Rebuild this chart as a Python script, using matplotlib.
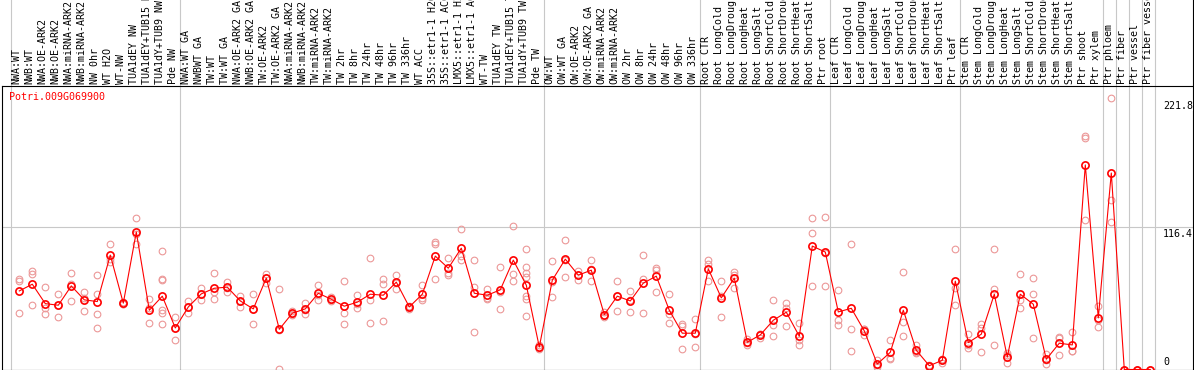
import matplotlib.pyplot as plt
import matplotlib.transforms as mtransforms
import numpy as np

gene_id = "Potri.009G069900"

samples = [
    "NWA:WT", "NWB:WT", "NWA:OE-ARK2", "NWB:OE-ARK2", "NWA:miRNA-ARK2",
    "NWB:miRNA-ARK2", "NW 0hr", "WT H2O", "WT-NW", "TUA1dEY NW",
    "TUA1dEY+TUB15 NW", "TUA1dY+TUB9 NW", "Pde NW",
    "NWA:WT GA", "NWBWT GA", "TW:WT", "TW:WT GA", "NWA:OE-ARK2 GA",
    "NWB:OE-ARK2 GA", "TW:OE-ARK2", "TW:OE-ARK2 GA", "NWA:miRNA-ARK2",
    "NWB:miRNA-ARK2", "TW:miRNA-ARK2", "TW:miRNA-ARK2", "TW 2hr", "TW 8hr",
    "TW 24hr", "TW 48hr", "TW 96hr", "TW 336hr", "WT ACC", "35S::etr1-1 H2O",
    "35S::etr1-1 ACC", "LMX5::etr1-1 H2O", "LMX5::etr1-1 ACC", "WT-TW",
    "TUA1dEY TW", "TUA1dEY+TUB15 TW", "TUA1dY+TUB9 TW", "Pde TW",
    "OW:WT", "OW:WT GA", "OW:OE-ARK2", "OW:OE-ARK2 GA", "OW:miRNA-ARK2",
    "OW:miRNA-ARK2", "OW 2hr", "OW 8hr", "OW 24hr", "OW 48hr", "OW 96hr",
    "OW 336hr",
    "Root CTR", "Root LongCold", "Root LongDrought", "Root LongHeat",
    "Root LongSalt", "Root ShortCold", "Root ShortDrought", "Root ShortHeat",
    "Root ShortSalt", "Ptr root",
    "Leaf CTR", "Leaf LongCold", "Leaf LongDrought", "Leaf LongHeat",
    "Leaf LongSalt", "Leaf ShortCold", "Leaf ShortDrought", "Leaf ShortHeat",
    "Leaf ShortSalt", "Ptr leaf",
    "Stem CTR", "Stem LongCold", "Stem LongDrought", "Stem LongHeat",
    "Stem LongSalt", "Stem ShortCold", "Stem ShortDrought", "Stem ShortHeat",
    "Stem ShortSalt", "Ptr shoot", "Ptr xylem",
    "Ptr phloem", "Ptr fiber", "Ptr vessel", "Ptr fiber vessel",
]

group_sizes = [13, 28, 12, 10, 10, 11, 1, 1, 1, 1]

means = [
    64.3, 69.8, 53.9, 52.6, 68.4, 57.0, 55.6, 93.6, 54.3, 112.5, 48.5, 60.0, 34.0,
    51.2, 61.9, 66.5, 67.4, 56.1, 49.6, 74.8, 32.9, 46.1, 49.6, 62.4, 57.5, 51.8,
    55.1, 61.6, 60.8, 71.5, 51.2, 61.6, 92.8, 82.9, 99.3, 62.4, 60.8, 65.2, 89.5,
    69.0, 18.4,
    73.1, 90.3, 77.2, 81.3, 44.9, 60.0, 56.1, 70.7, 76.4, 48.5, 29.7, 29.7,
    82.4, 58.6, 74.8, 22.3, 28.3, 40.3, 46.9, 27.2, 101.0, 96.1,
    47.1, 50.1, 31.6, 4.5, 14.1, 48.5, 15.7, 3.1, 7.5, 72.3,
    22.0, 28.9, 61.6, 10.2, 61.6, 53.4, 8.4, 21.5, 20.1, 167.4, 42.2,
    160.8, 0, 0, 0,
]

replicates = [
    [74.2, 72.8, 46.1], [80.2, 78.5, 52.6], [67.4, 50.4, 45.2], [61.9, 52.6, 42.8],
    [78.9, 70.1, 55.9], [63.5, 58.6, 47.7], [77.2, 61.9, 45.2, 34.0],
    [102.6, 90.3, 87.9], [55.0, 54.0, 54.0], [123.9, 111.0, 102.3],
    [58.0, 50.4, 37.9], [97.1, 74.2, 73.1, 48.5, 46.3, 37.0], [42.8, 34.0, 23.9],
    [55.9, 51.5, 46.1], [66.8, 61.9, 57.2], [78.9, 63.5, 57.5], [72.0, 67.0, 63.3],
    [60.5, 56.3, 51.5], [61.9, 49.6, 37.0], [78.5, 75.0, 70.9], [66.0, 32.5, 0.4],
    [48.0, 45.5, 45.0], [54.3, 49.0, 45.5], [69.3, 61.3, 56.7], [59.7, 57.0, 56.0],
    [72.3, 46.6, 37.0], [60.8, 54.0, 50.4], [91.1, 57.0, 37.9], [74.4, 70.1, 39.8],
    [77.5, 71.0, 65.7], [52.0, 51.5, 49.5], [69.3, 58.2, 57.2], [104.3, 102.3, 73.9],
    [91.1, 78.9, 77.5], [114.9, 92.8, 89.8], [89.5, 67.4, 30.5], [66.0, 58.6, 58.0],
    [83.8, 63.5, 49.3], [117.6, 78.3, 72.3],
    [98.5, 84.0, 78.9, 75.8, 60.0, 57.5, 43.6], [20.0, 18.0, 17.0],
    [88.9, 72.0, 59.2], [105.9, 90.0, 75.6], [81.0, 77.0, 73.6], [89.5, 82.0, 72.3],
    [47.0, 45.0, 43.0], [72.3, 60.0, 47.7], [64.1, 57.0, 46.9], [93.6, 74.2, 46.1],
    [83.2, 81.8, 63.5], [61.9, 45.5, 37.9], [37.5, 35.4, 16.6], [41.4, 29.0, 18.4],
    [89.2, 86.5, 72.3], [72.3, 60.0, 42.8], [79.7, 77.7, 66.6], [25.3, 22.0, 20.0],
    [29.0, 29.0, 26.0], [56.7, 36.5, 27.2], [54.5, 50.4, 35.7], [37.9, 24.0, 20.3],
    [123.9, 111.6, 68.2], [124.8, 95.0, 68.2],
    [64.9, 40.3, 36.7], [102.6, 33.2, 14.9], [33.0, 33.0, 28.0], [7.8, 3.5, 2.0],
    [23.9, 9.2, 9.0], [79.7, 38.7, 27.2], [19.9, 14.0, 13.3], [4.0, 3.0, 2.5],
    [9.0, 8.0, 5.0], [98.5, 66.8, 52.6],
    [28.7, 19.7, 18.0], [37.5, 34.0, 14.1], [98.5, 65.7, 20.1], [13.5, 12.0, 5.3],
    [78.0, 57.2, 50.1], [74.8, 61.6, 25.6], [13.0, 8.0, 4.5], [26.6, 26.0, 11.9],
    [30.5, 15.0, 14.9], [190.8, 189.8, 122.3], [51.8, 40.4, 34.6],
    [221.8, 138.9, 120.7], [0, 0, 0], [0, 0, 0], [0, 0, 0],
]

y_marks = [221.8, 116.4, 0]
y_mark_labels = ["221.8", "116.4", "0"]

W, H = 1194, 370
fig = plt.figure(figsize=(W / 100, H / 100), dpi=100)
ax = fig.add_axes([2 / W, 0.5 / H, 1191 / W, 283.5 / H])
ax.set_xlim(-1.331, 90.285)
ax.set_ylim(0, 232.0)
ax.set_xticks([])
ax.set_yticks([])
for sp in ax.spines.values():
    sp.set_color("black")
    sp.set_linewidth(0.8)

mono = "DejaVu Sans Mono"
grid_col = "#c8c8c8"
label_top = 370 / 283.5  # axes fraction reaching the top of the figure

# group separators, running through the label strip too
ends = np.concatenate([[-1], np.cumsum(group_sizes) - 1])
for e in ends:
    ax.axvline(e + 0.38, ymin=0, ymax=label_top, color=grid_col, lw=0.8,
               clip_on=False, zorder=0)
ax.axvline(ax.get_xlim()[1], ymin=1, ymax=label_top, color="black", lw=0.8,
           clip_on=False)
ax.axhline(y_marks[1], color=grid_col, lw=0.8, zorder=0)

# replicates
rx, ry = [], []
for i, reps in enumerate(replicates):
    rx += [i] * len(reps)
    ry += reps
ax.plot(rx, ry, "o", mfc="none", mec="#ec9898", ms=4.8, mew=0.8,
        clip_on=False, zorder=2)

# means
x = np.arange(len(samples))
ax.plot(x, means, color="red", lw=0.8, marker="o", ms=5.2, mfc="none",
        mec="red", mew=1.2, clip_on=False, zorder=3)

# sample labels
trans = mtransforms.blended_transform_factory(ax.transData, ax.transAxes)
for i, s in enumerate(samples):
    ax.text(i - 0.2, 1.006, s, transform=trans, rotation=90, ha="center",
            va="bottom", fontsize=7.2, family=mono, clip_on=False)

ax.text(0.0061, 0.961, gene_id, transform=ax.transAxes, color="red",
        fontsize=7.2, family=mono, va="center", ha="left")

ytrans = mtransforms.blended_transform_factory(ax.transAxes, ax.transData)
for v, lab in zip(y_marks, y_mark_labels):
    if v > 0:
        ax.annotate(lab, (0.9748, v), xycoords=ytrans, xytext=(0, -1.5),
                    textcoords="offset points", va="top", ha="left",
                    fontsize=7.2, family=mono,
                    bbox=dict(facecolor="white", edgecolor="none", pad=0.3))
    else:
        ax.annotate(lab, (0.9748, v), xycoords=ytrans, xytext=(0, 1.5),
                    textcoords="offset points", va="bottom", ha="left",
                    fontsize=7.2, family=mono)

fig.savefig("out.png", dpi=100)
